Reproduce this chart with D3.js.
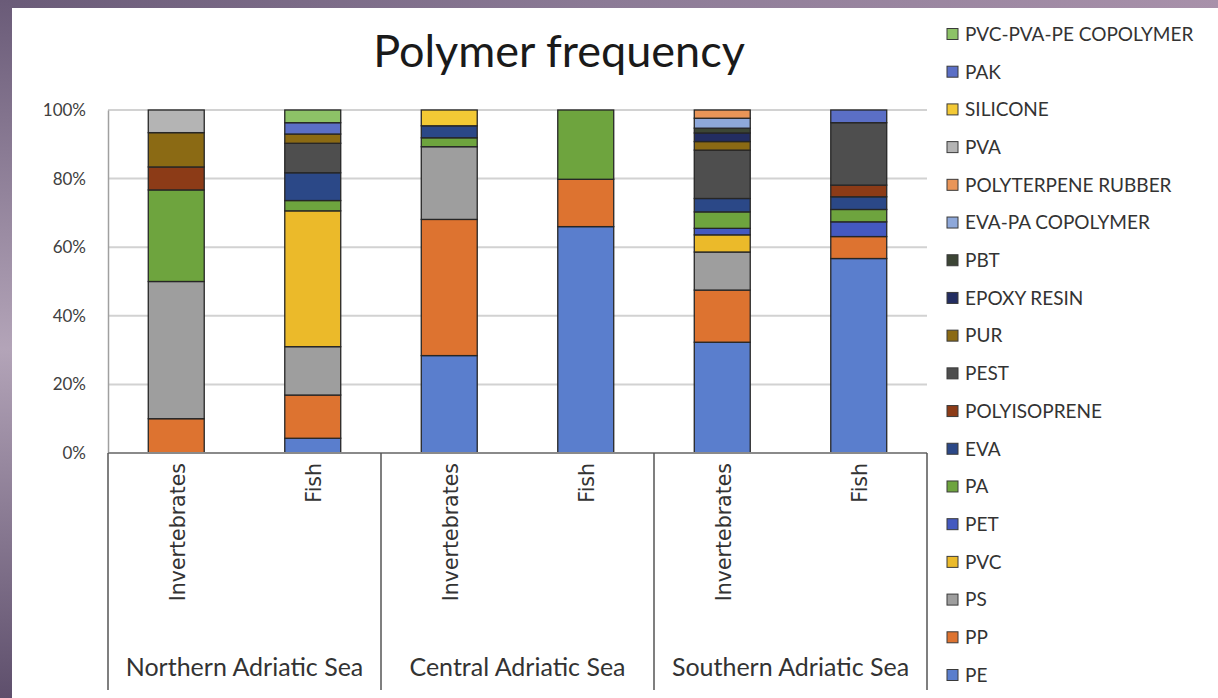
<!DOCTYPE html>
<html><head><meta charset="utf-8">
<script src="https://cdn.jsdelivr.net/npm/d3@7"></script>
<style>html,body{margin:0;padding:0;background:#fff;}svg{display:block;}</style>
</head><body>
<svg id="chart" width="1218" height="698"></svg>
<script>
// ---------- data ----------
const regions = ["Northern Adriatic Sea", "Central Adriatic Sea", "Southern Adriatic Sea"];
const types = ["Invertebrates", "Fish"];
const yTicks = [0, 20, 40, 60, 80, 100];
// series order: bottom of stack first
const polymers = ["PE", "PP", "PS", "PVC", "PET", "PA", "EVA", "POLYISOPRENE", "PEST", "PUR",
  "EPOXY RESIN", "PBT", "EVA-PA COPOLYMER", "POLYTERPENE RUBBER", "PVA", "SILICONE", "PAK", "PVC-PVA-PE COPOLYMER"];
// values (%) per bar: N-Inv, N-Fish, C-Inv, C-Fish, S-Inv, S-Fish
const PE          = [0,    4.3, 28.4, 66.0, 32.3, 56.7];
const PP          = [10,  12.6, 39.7, 13.8, 15.2,  6.4];
const PS          = [40,  14.1, 21.2,  0,   11.1,  0];
const PVC         = [0,   39.6,  0,    0,    5.0,  0];
const PET         = [0,    0,    0,    0,    1.9,  4.3];
const PA          = [26.7, 3.0,  2.6, 20.2,  4.8,  3.6];
const EVA         = [0,    8.1,  3.5,  0,    3.9,  3.7];
const POLYISOPRENE= [6.7,  0,    0,    0,    0,    3.4];
const PEST        = [0,    8.6,  0,    0,   14.1, 18.2];
const PUR         = [10,   2.7,  0,    0,    2.5,  0];
const EPOXY       = [0,    0,    0,    0,    2.5,  0];
const PBT         = [0,    0,    0,    0,    1.4,  0];
const EVAPA       = [0,    0,    0,    0,    2.9,  0];
const POLYTERPENE = [0,    0,    0,    0,    2.4,  0];
const PVA         = [6.6,  0,    0,    0,    0,    0];
const SILICONE    = [0,    0,    4.6,  0,    0,    0];
const PAK         = [0,    3.3,  0,    0,    0,    3.7];
const PVCPVAPE    = [0,    3.7,  0,    0,    0,    0];
const seriesValues = [PE, PP, PS, PVC, PET, PA, EVA, POLYISOPRENE, PEST, PUR, EPOXY, PBT, EVAPA, POLYTERPENE, PVA, SILICONE, PAK, PVCPVAPE];
const colors = ["#5a7ecd", "#dd7330", "#9e9e9e", "#ebba2a", "#4459c0", "#6ea43e", "#2b4887", "#8c3b17", "#4e4e4e", "#8b6a14",
  "#232d61", "#3c4535", "#8ea8da", "#e99558", "#b4b4b4", "#f3c935", "#5b6fc6", "#8dc267"];

// ---------- build table ----------
const cats = [];
regions.forEach(r => types.forEach(t => cats.push({id: r + "|" + t, region: r, type: t})));
const table = cats.map((c, i) => {
  const row = {id: c.id};
  polymers.forEach((p, k) => row[p] = seriesValues[k][i]);
  return row;
});

const svg = d3.select("#chart");
const W = 1218, H = 698;

// frame background
const defs = svg.append("defs");
const gTop = defs.append("linearGradient").attr("id", "gTop").attr("x1", 0).attr("x2", 1).attr("y1", 0).attr("y2", 0);
gTop.append("stop").attr("offset", 0).attr("stop-color", "#6a5b78");
gTop.append("stop").attr("offset", 0.5).attr("stop-color", "#8c7b96");
gTop.append("stop").attr("offset", 1).attr("stop-color", "#a891aa");
const gLeft = defs.append("linearGradient").attr("id", "gLeft").attr("x1", 0).attr("x2", 0).attr("y1", 0).attr("y2", 1);
gLeft.append("stop").attr("offset", 0).attr("stop-color", "#6a5b78");
gLeft.append("stop").attr("offset", 0.5).attr("stop-color", "#b3a4b8");
gLeft.append("stop").attr("offset", 1).attr("stop-color", "#5e4f6c");
svg.append("rect").attr("x", 0).attr("y", 0).attr("width", W).attr("height", 8).attr("fill", "url(#gTop)");
svg.append("rect").attr("x", 0).attr("y", 0).attr("width", 12).attr("height", H).attr("fill", "url(#gLeft)");
svg.append("rect").attr("x", 12).attr("y", 8).attr("width", W - 12).attr("height", H - 8).attr("fill", "#ffffff");

// ---------- scales ----------
const plotL = 108, plotR = 927, plotT = 110, plotB = 453;
const x = d3.scaleBand().domain(cats.map(c => c.id)).range([plotL, plotR]).paddingInner(0.59).paddingOuter(0.295);
const xRegion = d3.scaleBand().domain(regions).range([plotL, plotR]);
const y = d3.scaleLinear().domain([0, 100]).range([plotB, plotT]);

// gridlines
svg.append("g").selectAll("line").data(yTicks.filter(t => t > 0)).join("line")
  .attr("x1", plotL).attr("x2", plotR).attr("y1", d => y(d)).attr("y2", d => y(d))
  .attr("stroke", "#d2d2d2").attr("stroke-width", 2);

// y axis
const yAxis = d3.axisLeft(y).tickValues(yTicks).tickFormat(d => d + "%").tickSize(0).tickPadding(22);
const ya = svg.append("g").attr("transform", `translate(${plotL},0)`).call(yAxis);
ya.select(".domain").attr("stroke", "#a0a0a0").attr("stroke-width", 1.5);
ya.selectAll("text").attr("font-family", "Lato, 'Open Sans', sans-serif").attr("font-size", 17).attr("fill", "#404040");

// ---------- bars ----------
const stack = d3.stack().keys(polymers);
const layers = stack(table);
svg.append("g").selectAll("g").data(layers).join("g")
  .attr("fill", (d, i) => colors[i])
  .selectAll("rect").data(d => d.filter(s => s[1] - s[0] > 0)).join("rect")
  .attr("x", d => x(d.data.id)).attr("width", x.bandwidth())
  .attr("y", d => y(d[1])).attr("height", d => y(d[0]) - y(d[1]))
  .attr("stroke", "#262626").attr("stroke-width", 1.3);

// x axis baseline
svg.append("line").attr("x1", plotL).attr("x2", plotR).attr("y1", plotB).attr("y2", plotB)
  .attr("stroke", "#8a8a8a").attr("stroke-width", 2);

// region dividers
const bounds = regions.map(r => xRegion(r)).concat([plotR]);
svg.append("g").selectAll("line").data(bounds).join("line")
  .attr("x1", d => d).attr("x2", d => d).attr("y1", plotB).attr("y2", 690)
  .attr("stroke", "#555").attr("stroke-width", 1.5);

// category labels (rotated)
svg.append("g").selectAll("text").data(cats).join("text")
  .attr("transform", d => `translate(${x(d.id) + x.bandwidth() / 2 + 1},463) rotate(-90)`)
  .attr("text-anchor", "end").attr("dy", "0.36em")
  .attr("font-family", "'DejaVu Sans', sans-serif").attr("font-size", 20.5).attr("fill", "#333")
  .text(d => d.type);

// region labels
svg.append("g").selectAll("text").data(regions).join("text")
  .attr("x", d => xRegion(d) + xRegion.bandwidth() / 2).attr("y", 667).attr("dy", "0.35em")
  .attr("text-anchor", "middle")
  .attr("font-family", "Lato, 'Open Sans', sans-serif").attr("font-size", 25).attr("fill", "#333")
  .text(d => d);

// title
svg.append("text").attr("x", 559).attr("y", 51).attr("dy", "0.35em").attr("text-anchor", "middle")
  .attr("font-family", "Lato, 'Open Sans', sans-serif").attr("font-size", 45).attr("fill", "#1a1a1a")
  .text("Polymer frequency");

// legend (reverse order)
const legendItems = polymers.map((p, i) => ({name: p, color: colors[i]})).reverse();
const ly = d3.scalePoint().domain(legendItems.map(d => d.name)).range([34, 675]);
const lg = svg.append("g").selectAll("g").data(legendItems).join("g")
  .attr("transform", d => `translate(947,${ly(d.name)})`);
lg.append("rect").attr("x", 0).attr("y", -5.5).attr("width", 11).attr("height", 11)
  .attr("fill", d => d.color).attr("stroke", "#3a3a3a").attr("stroke-width", 1);
lg.append("text").attr("x", 18).attr("dy", "0.36em")
  .attr("font-family", "Lato, 'Open Sans', sans-serif").attr("font-size", 19).attr("fill", "#333")
  .text(d => d.name);
</script>
</body></html>
